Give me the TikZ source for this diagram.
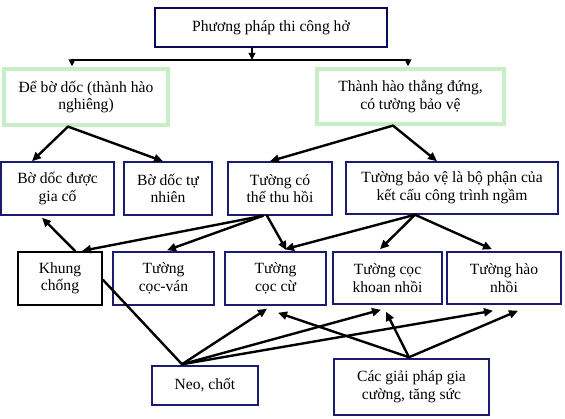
\documentclass[tikz,border=0pt]{standalone}
\usepackage{fontspec}
\setmainfont{Liberation Serif}
\usetikzlibrary{arrows.meta,calc}
\definecolor{navy}{RGB}{28,28,110}
\definecolor{deepnavy}{RGB}{10,10,90}
\definecolor{lgreen}{RGB}{200,238,200}
\tikzset{
  box/.style={draw=navy,line width=1.5pt,rectangle,inner sep=0pt,align=center,
    font=\fontsize{15.6}{17.5}\selectfont},
  topbox/.style={box,draw=deepnavy,line width=2.8pt},
  greenbox/.style={box,draw=lgreen,line width=3.2pt},
  blackbox/.style={box,draw=black,line width=2.2pt},
  conn/.style={line width=2.4pt,line cap=round},
  arr/.style={conn,-{Triangle[length=9pt,width=8pt]}},
  smallarr/.style={conn,-{Triangle[length=7pt,width=6.5pt]}}
}
\begin{document}
\begin{tikzpicture}[x=1pt,y=-1pt]
\useasboundingbox[fill=white] (0,0) rectangle (565,419);
% nodes
\node[topbox,minimum width=232pt,minimum height=39pt] (top) at (271,27.5) {Phương pháp thi công hở};
\node[greenbox,minimum width=164pt,minimum height=56pt] (lg) at (86,97) {Để bờ dốc (thành hào\\nghiêng)};
\node[greenbox,minimum width=187pt,minimum height=55pt] (rg) at (410.5,96.5) {Thành hào thẳng đứng,\\có tường bảo vệ};
\node[box,minimum width=113pt,minimum height=53pt] (b1) at (57.5,188.5) {Bờ dốc được\\gia cố};
\node[box,minimum width=88pt,minimum height=53pt] (b2) at (168,188.5) {Bờ dốc tự\\nhiên};
\node[box,minimum width=104pt,minimum height=53pt] (b3) at (280,188.5) {Tường có\\thể thu hồi};
\node[box,minimum width=212pt,minimum height=52pt] (b4) at (452,188) {Tường bảo vệ là bộ phận của\\kết cấu công trình ngầm};
\node[blackbox,minimum width=84pt,minimum height=53pt] (c1) at (60,278.5) {Khung\\chống};
\node[box,minimum width=101pt,minimum height=53pt] (c2) at (163.5,278.5) {Tường\\cọc-ván};
\node[box,minimum width=101pt,minimum height=53pt] (c3) at (275.5,278.5) {Tường\\cọc cừ};
\node[box,minimum width=109pt,minimum height=52pt] (c4) at (387.5,278) {Tường cọc\\khoan nhồi};
\node[box,minimum width=114pt,minimum height=52pt] (c5) at (504,278) {Tường hào\\nhồi};
\node[box,minimum width=106pt,minimum height=39pt] (neo) at (205,385.5) {Neo, chốt};
\node[box,minimum width=155pt,minimum height=56pt] (cac) at (411.5,387) {Các giải pháp gia\\cường, tăng sức};
% top bar
\coordinate (barL) at (72,60);
\coordinate (barR) at (408,60);
\coordinate (barM) at (252,60);
\draw[smallarr] ([xshift=-19pt]top.south) -- (barM);
\draw[conn] (barL) -- (barR);
\draw[smallarr] (barL) -- ($(lg.north)+(-14,-1)$);
\draw[smallarr] (barR) -- ($(rg.north)+(-2.5,-1)$);
% level 1 -> 2
\coordinate (lgp) at ($(lg.south)+(-18,0)$);
\coordinate (rgp) at ($(rg.south)+(-17.5,0)$);
\draw[arr] (lgp) -- ($(b1.north)+(-25.5,0)$);
\draw[arr] (lgp) -- ($(b2.north)+(-5,0)$);
\draw[arr] (rgp) -- ($(b3.north)+(-10,0)$);
\draw[arr] (rgp) -- ($(b4.north)+(-15,0)$);
% level 2 -> 3
\draw[arr] ($(b3.south)+(-17,0)$) -- ($(c1.north)+(22,0)$);
\draw[arr] ($(b3.south)+(-17,0)$) -- ($(c2.north)+(3.5,-1)$);
\draw[arr] ($(b3.south)+(-13,0)$) -- ($(c3.north)+(11,-1)$);
\coordinate (b4p) at ($(b4.south)+(-37,0)$);
\draw[arr] (b4p) -- ($(c3.north)+(9.5,-2)$);
\draw[arr] (b4p) -- ($(c4.north)+(-7.5,-2)$);
\draw[arr] (b4p) -- ($(c5.north)+(-12,-2)$);
% khung chong
\draw[arr] ($(c1.north)+(15,0)$) -- ($(b1.south)+(-15.5,2)$);
\coordinate (neop) at ($(neo.north)+(-23,-1)$);
\draw[conn] ($(c1.east)+(0,1.5)$) -- (neop);
% neo, chot
\draw[arr] (neop) -- ($(c3.south)+(-8.5,3)$);
\draw[arr] (neop) -- ($(c4.south)+(-6.5,5)$);
\draw[arr] (neop) -- ($(c5.south)+(-11,6)$);
% cac giai phap
\coordinate (cacp) at ($(cac.north)+(-2.5,-1)$);
\draw[arr] (cacp) -- ($(c3.south)+(2.5,7)$);
\draw[arr] (cacp) -- ($(c4.south)+(-1.5,7)$);
\draw[arr] (cacp) -- ($(c5.south)+(14,6)$);
\end{tikzpicture}
\end{document}
